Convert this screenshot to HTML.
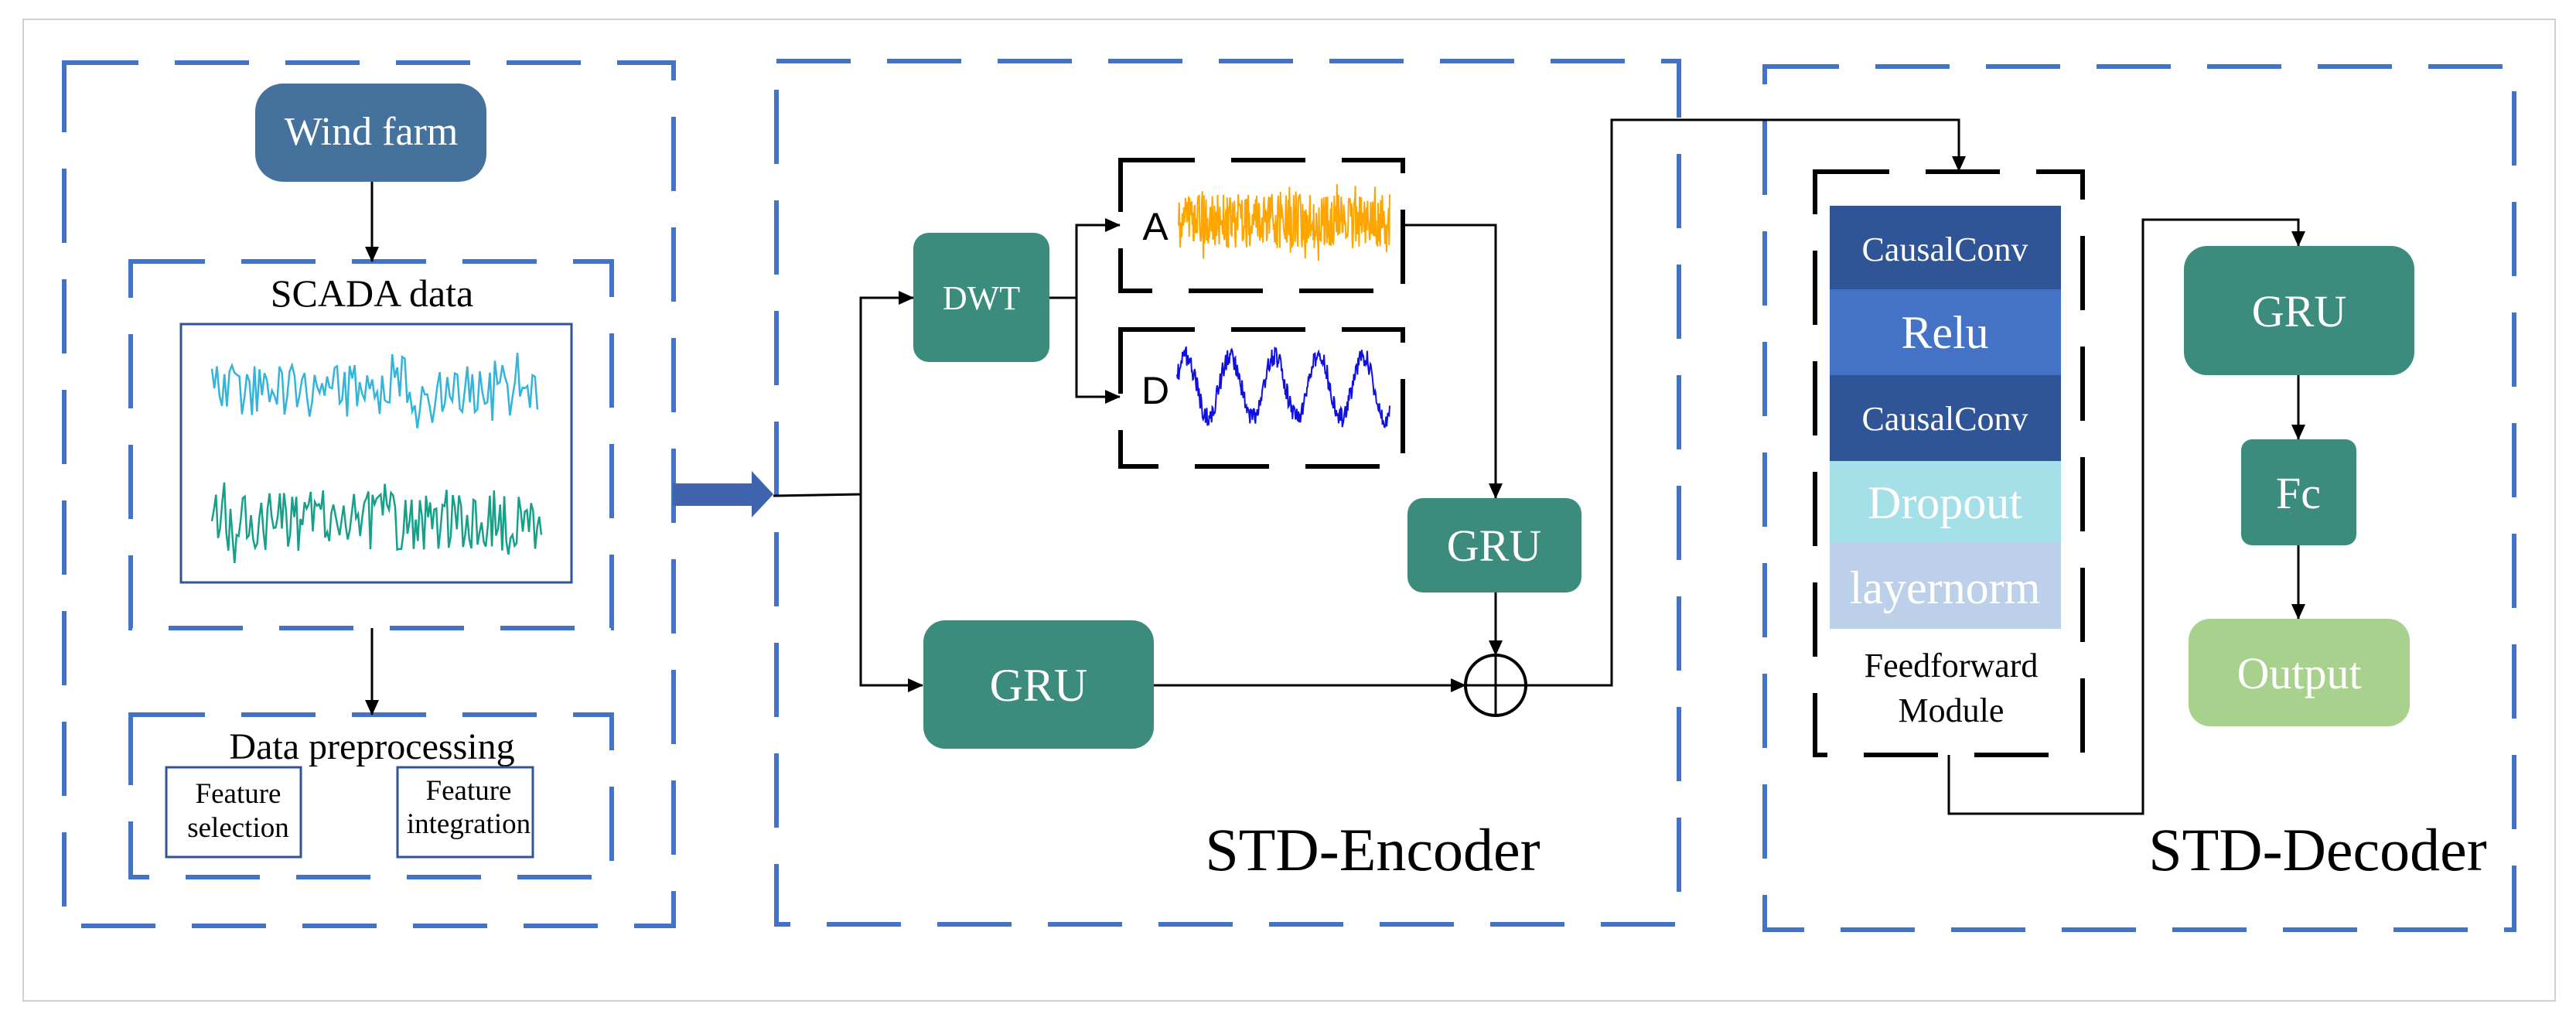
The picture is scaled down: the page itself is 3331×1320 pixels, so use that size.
<!DOCTYPE html>
<html><head><meta charset="utf-8"><style>
html,body{margin:0;padding:0;background:#fff}
svg{display:block}
text{font-family:"Liberation Serif",serif}
text.sans{font-family:"Liberation Sans",sans-serif}
</style></head><body>
<svg id="s" width="3331" height="1320" viewBox="0 0 3331 1320" xmlns="http://www.w3.org/2000/svg">
<defs>
<marker id="ah" markerWidth="20" markerHeight="20" refX="19" refY="10" orient="auto" markerUnits="userSpaceOnUse" viewBox="0 0 20 20">
<path d="M0,1 L20,10 L0,19 z" fill="#000"/></marker>
</defs>
<rect x="30" y="25" width="3274" height="1269" fill="#fff" stroke="#d0d0d0" stroke-width="2"/>
<g fill="none" stroke="#4472c4" stroke-width="6" stroke-dasharray="96 47">
<rect x="83" y="81" width="788" height="1116"/>
<rect x="169" y="338" width="622" height="474"/>
<rect x="169" y="924" width="622" height="210"/>
<rect x="1004" y="79" width="1167" height="1116"/>
<rect x="2282" y="86" width="969" height="1116"/>
</g>
<g fill="none" stroke="#000" stroke-width="6" stroke-dasharray="96 47">
<rect x="1449" y="207" width="365" height="169"/>
<rect x="1449" y="426" width="365" height="177"/>
<rect x="2347" y="222" width="346" height="754"/>
</g>
<rect x="330" y="108" width="299" height="127" rx="36" fill="#44729c"/>
<text x="480" y="187" font-size="52" fill="#fff" text-anchor="middle">Wind farm</text>
<text x="481" y="396" font-size="50" text-anchor="middle">SCADA data</text>
<rect x="234" y="419" width="505" height="334" fill="#fff" stroke="#2f5597" stroke-width="3"/>
<path id="w1" fill="none" stroke="#33b4d8" stroke-width="2.5"/>
<path id="w2" fill="none" stroke="#16a08a" stroke-width="2.5"/>
<text x="481" y="981" font-size="48" text-anchor="middle">Data preprocessing</text>
<rect x="215" y="992" width="174" height="116" fill="#fff" stroke="#2f5597" stroke-width="3"/>
<rect x="514" y="992" width="175" height="116" fill="#fff" stroke="#2f5597" stroke-width="3"/>
<text x="308" y="1038" font-size="37" text-anchor="middle">Feature</text>
<text x="308" y="1082" font-size="37" text-anchor="middle">selection</text>
<text x="606" y="1034" font-size="37" text-anchor="middle">Feature</text>
<text x="606" y="1077" font-size="37" text-anchor="middle">integration</text>
<g stroke="#000" stroke-width="3" fill="none" marker-end="url(#ah)">
<line x1="481" y1="235" x2="481" y2="338"/>
<line x1="481" y1="812" x2="481" y2="924"/>
</g>
<path d="M870,625 L972,625 L972,609 L1000,639 L972,669 L972,654 L870,654 z" fill="#3f63ad"/>
<g stroke="#000" stroke-width="3" fill="none">
<path d="M1000,641 L1113,639 L1113,385 L1181,385" marker-end="url(#ah)"/>
<path d="M1113,639 L1113,886 L1193,886" marker-end="url(#ah)"/>
<path d="M1357,385 L1392,385 L1392,291 L1448,291" marker-end="url(#ah)"/>
<path d="M1392,385 L1392,513 L1448,513" marker-end="url(#ah)"/>
<path d="M1817,291 L1934,291 L1934,644" marker-end="url(#ah)"/>
<path d="M1934,766 L1934,847" marker-end="url(#ah)"/>
<path d="M1492,886 L1895,886" marker-end="url(#ah)"/>
<path d="M1973,886 L2084,886 L2084,155 L2533,155 L2533,221" marker-end="url(#ah)"/>
<circle cx="1934" cy="886" r="39" stroke-width="4"/>
<line x1="1895" y1="886" x2="1973" y2="886"/>
<line x1="1934" y1="847" x2="1934" y2="925"/>
<path d="M2520,976 L2520,1052 L2771,1052 L2771,284 L2972,284 L2972,318" marker-end="url(#ah)"/>
<path d="M2972,485 L2972,568" marker-end="url(#ah)"/>
<path d="M2972,705 L2972,800" marker-end="url(#ah)"/>
</g>
<rect x="1181" y="301" width="176" height="167" rx="20" fill="#3c8c7e"/>
<text x="1269" y="400" font-size="44" fill="#fff" text-anchor="middle">DWT</text>
<text class="sans" x="1494" y="310" font-size="50" text-anchor="middle">A</text>
<text class="sans" x="1494" y="522" font-size="50" text-anchor="middle">D</text>
<path id="wa" fill="none" stroke="#ffa500" stroke-width="2"/>
<path id="wd" fill="none" stroke="#1010e0" stroke-width="2"/>
<rect x="1820" y="644" width="225" height="122" rx="20" fill="#3c8c7e"/>
<text x="1932" y="725" font-size="58" fill="#fff" text-anchor="middle">GRU</text>
<rect x="1194" y="802" width="298" height="166" rx="28" fill="#3c8c7e"/>
<text x="1343" y="906" font-size="60" fill="#fff" text-anchor="middle">GRU</text>
<text x="1775" y="1125" font-size="78" text-anchor="middle">STD-Encoder</text>
<rect x="2366" y="266" width="299" height="108" fill="#2f5597"/>
<rect x="2366" y="374" width="299" height="111" fill="#4472c4"/>
<rect x="2366" y="485" width="299" height="111" fill="#2f5597"/>
<rect x="2366" y="596" width="299" height="105" fill="#a5dfe8"/>
<rect x="2366" y="701" width="299" height="112" fill="#bdd0ea"/>
<g fill="#fff" text-anchor="middle">
<text x="2515" y="337" font-size="44">CausalConv</text>
<text x="2515" y="450" font-size="60">Relu</text>
<text x="2515" y="556" font-size="44">CausalConv</text>
<text x="2515" y="670" font-size="60">Dropout</text>
<text x="2515" y="780" font-size="60">layernorm</text>
</g>
<text x="2523" y="875" font-size="44" text-anchor="middle">Feedforward</text>
<text x="2523" y="933" font-size="44" text-anchor="middle">Module</text>
<rect x="2824" y="318" width="298" height="167" rx="30" fill="#3c8c7e"/>
<text x="2973" y="422" font-size="58" fill="#fff" text-anchor="middle">GRU</text>
<rect x="2898" y="568" width="149" height="137" rx="14" fill="#3c8c7e"/>
<text x="2972" y="657" font-size="58" fill="#fff" text-anchor="middle">Fc</text>
<rect x="2830" y="800" width="286" height="139" rx="28" fill="#a9d18e"/>
<text x="2973" y="890" font-size="58" fill="#fff" text-anchor="middle">Output</text>
<text x="2997" y="1125" font-size="78" text-anchor="middle">STD-Decoder</text>
</svg>
<script>
var seed=12345;function r(){seed=(seed*16807)%2147483647;return seed/2147483647;}
function wave(id,x0,x1,n,fy){var d="";for(var i=0;i<=n;i++){var x=x0+(x1-x0)*i/n;var y=fy(i/n);d+=(i?"L":"M")+x.toFixed(1)+","+y.toFixed(1);}document.getElementById(id).setAttribute("d",d);}
wave("w1",274,695,130,function(t){return 505+(r()-0.5)*70+(r()<0.15?(r()-0.5)*70:0);});
wave("w2",274,700,160,function(t){return 673+(r()-0.5)*80+(r()<0.15?(r()-0.5)*70:0);});
wave("wa",1524,1797,400,function(t){return 286+(r()-0.5)*70+(r()<0.08?(r()-0.5)*80:0);});
wave("wd",1522,1797,350,function(t){return 500-40*Math.sin(2*Math.PI*(t*4.8+0.05))+(r()-0.5)*26;});
</script>
</body></html>
